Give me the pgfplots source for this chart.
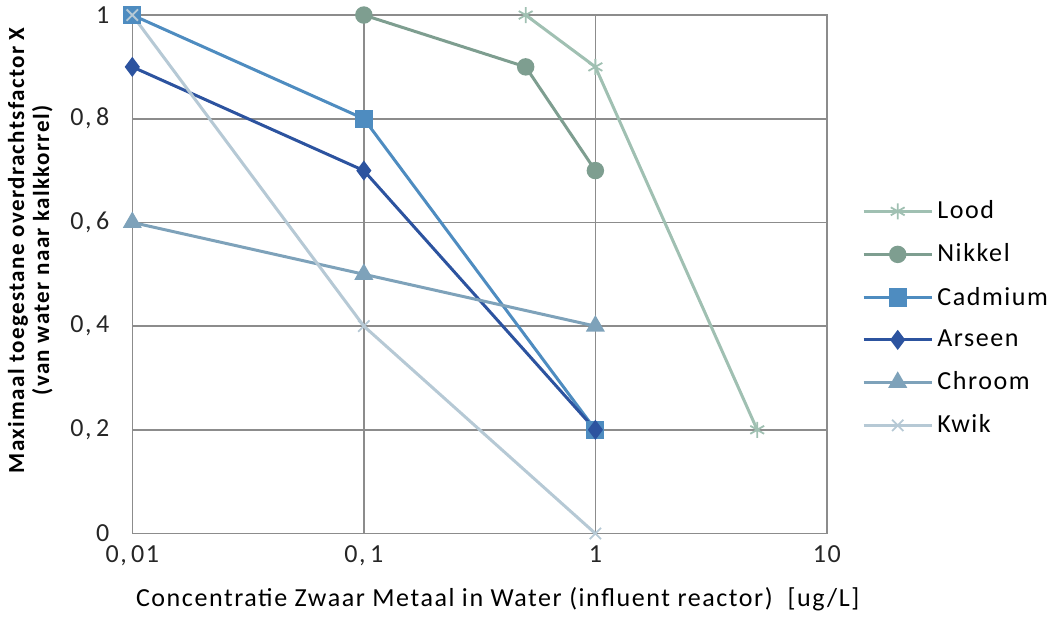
\documentclass[border=0pt]{standalone}
\usepackage{pgfplots}
\pgfplotsset{compat=1.18}
\usepackage{fontspec}
\setmainfont{Carlito}[LetterSpace=6]
\definecolor{cLood}{HTML}{A0C0B2}
\definecolor{cNikkel}{HTML}{7E9E90}
\definecolor{cCadmium}{HTML}{4E8CC0}
\definecolor{cArseen}{HTML}{2C539F}
\definecolor{cChroom}{HTML}{7EA2BA}
\definecolor{cKwik}{HTML}{B6C9D5}
\definecolor{gridc}{HTML}{8C8C8C}
\begin{document}
\begin{tikzpicture}
\begin{axis}[
  scale only axis,
  width=347pt, height=259pt,
  xmode=log, xmin=0.01, xmax=10, ymin=0, ymax=1,
  xtick={0.01,0.1,1,10},
  xticklabels={{0,\,01},{0,\,1},1,10},
  ytick={0,0.2,0.4,0.6,0.8,1},
  yticklabels={0,{0,\,2},{0,\,4},{0,\,6},{0,\,8},1},
  grid=major,
  major grid style={gridc, line width=0.8pt},
  axis line style={gridc, line width=0.8pt},
  tick style={draw=none},
  ticklabel style={font=\fontsize{13}{14}\selectfont, text=black!85},
  xticklabel style={yshift=-2.5pt},
  yticklabel style={xshift=-8pt},
  xlabel={Concentratie Zwaar Metaal in Water (influent reactor)\ \ [ug/L]},
  xlabel style={font=\fontsize{13}{14}\selectfont, at={(ticklabel cs:0.526)}, yshift=-4pt},
  ylabel={\bfseries\begin{tabular}{c}Maximaal toegestane overdrachtsfactor X\\(van water naar kalkkorrel)\end{tabular}},
  ylabel style={font=\fontsize{11.5}{12.5}\selectfont, at={(ticklabel cs:0.546)}},
  clip=false,
  legend style={draw=none, fill=none, at={(1.05,0.415)}, anchor=west,
    font=\fontsize{13}{14}\selectfont, row sep=7pt,
    legend cell align=left, inner sep=0pt},
  legend image code/.code={
    \draw[mark repeat=2,mark phase=2] plot coordinates {(0cm,0cm) (0.6cm,0cm) (1.2cm,0cm)};},
  every axis plot/.append style={line width=1.5pt},
]
\addplot[cLood, mark=asterisk, mark size=4pt, mark options={line width=0.9pt}] coordinates {(0.5,1) (1,0.9) (5,0.2)};
\addlegendentry{Lood}
\addplot[cNikkel, mark=*, mark size=3.6pt] coordinates {(0.1,1) (0.5,0.9) (1,0.7)};
\addlegendentry{Nikkel}
\addplot[cCadmium, mark=square*, mark size=3.8pt] coordinates {(0.01,1) (0.1,0.8) (1,0.2)};
\addlegendentry{Cadmium}
\addplot[cArseen, mark=diamond*, mark size=3.8pt] coordinates {(0.01,0.9) (0.1,0.7) (1,0.2)};
\addlegendentry{Arseen}
\addplot[cChroom, mark=triangle*, mark size=4pt] coordinates {(0.01,0.6) (0.1,0.5) (1,0.4)};
\addlegendentry{Chroom}
\addplot[cKwik, mark=x, mark size=4pt, mark options={line width=0.9pt}] coordinates {(0.01,1) (0.1,0.4) (1,0)};
\addlegendentry{Kwik}
\end{axis}
\end{tikzpicture}
\end{document}
